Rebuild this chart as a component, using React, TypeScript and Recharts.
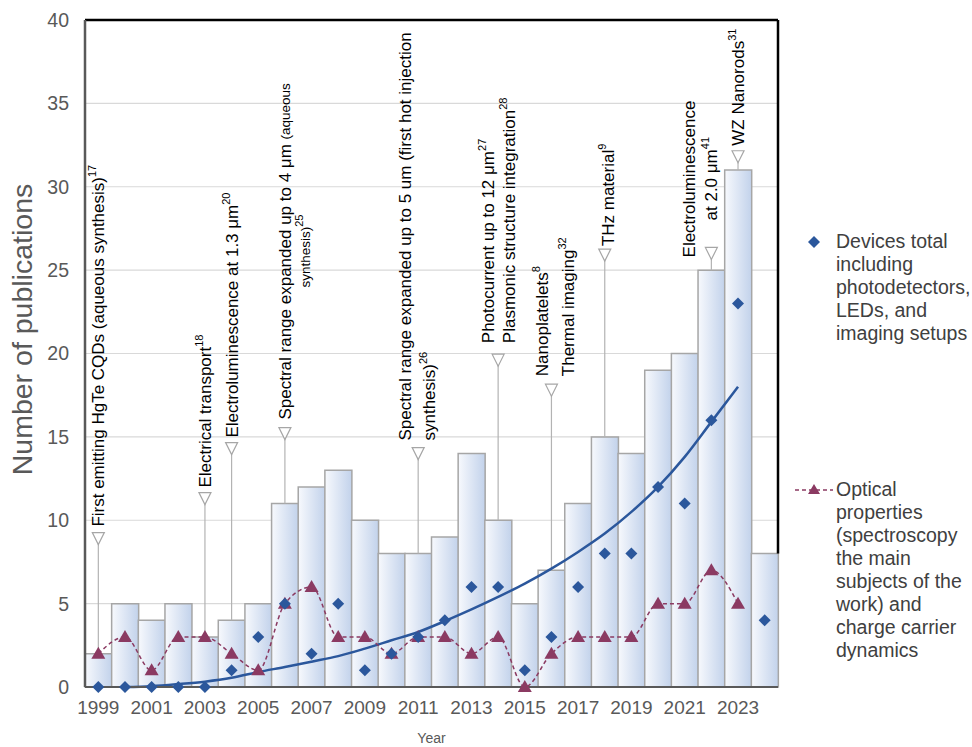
import {
  ComposedChart,
  Bar,
  Line,
  Scatter,
  XAxis,
  YAxis,
  CartesianGrid,
  ReferenceLine,
  ReferenceDot,
} from "recharts";

// ---- data ----
const years = [
  1999, 2000, 2001, 2002, 2003, 2004, 2005, 2006, 2007, 2008, 2009, 2010, 2011,
  2012, 2013, 2014, 2015, 2016, 2017, 2018, 2019, 2020, 2021, 2022, 2023, 2024,
];
const totals = [2, 5, 4, 5, 3, 4, 5, 11, 12, 13, 10, 8, 8, 9, 14, 10, 5, 7, 11, 15, 14, 19, 20, 25, 31, 8];
const devices = [0, 0, 0, 0, 0, 1, 3, 5, 2, 5, 1, 2, 3, 4, 6, 6, 1, 3, 6, 8, 8, 12, 11, 16, 23, 4];
const optical = [2, 3, 1, 3, 3, 2, 1, 5, 6, 3, 3, 2, 3, 3, 2, 3, 0, 2, 3, 3, 3, 5, 5, 7, 5, null];
const trend = [
  null, 0, 0.05, 0.17, 0.32, 0.55, 0.9, 1.2, 1.52, 1.85, 2.3, 2.8, 3.3, 3.95, 4.65, 5.4, 6.2, 7.1,
  8.1, 9.2, 10.5, 12.0, 13.8, 15.9, 18.0, null,
];
const yTicks = [0, 5, 10, 15, 20, 25, 30, 35, 40];

type Seg = [string, "n" | "s" | "sup"];
const annotations: { year: number; mark: number; lines: Seg[][] }[] = [
  { year: 1999, mark: 8.9, lines: [[["First emitting HgTe CQDs (aqueous synthesis)", "n"], ["17", "sup"]]] },
  { year: 2003, mark: 11.3, lines: [[["Electrical transport", "n"], ["18", "sup"]]] },
  { year: 2004, mark: 14.3, lines: [[["Electroluminescence at 1.3 \u03bcm", "n"], ["20", "sup"]]] },
  {
    year: 2006,
    mark: 15.2,
    lines: [
      [["Spectral range expanded up to 4 \u03bcm ", "n"], ["(aqueous", "s"]],
      [["synthesis)", "s"], ["25", "sup"]],
    ],
  },
  {
    year: 2011,
    mark: 14.0,
    lines: [
      [["Spectral range expanded up to 5 um (first hot injection", "n"]],
      [["synthesis)", "n"], ["26", "sup"]],
    ],
  },
  {
    year: 2014,
    mark: 19.6,
    lines: [
      [["Photocurrent up to 12 \u03bcm", "n"], ["27", "sup"]],
      [["Plasmonic structure integration", "n"], ["28", "sup"]],
    ],
  },
  {
    year: 2016,
    mark: 17.8,
    lines: [
      [["Nanoplatelets", "n"], ["8", "sup"]],
      [["Thermal imaging", "n"], ["32", "sup"]],
    ],
  },
  { year: 2018, mark: 25.9, lines: [[["THz material", "n"], ["9", "sup"]]] },
  {
    year: 2022,
    mark: 26.0,
    lines: [[["Electroluminescence", "n"]], [["at 2.0 \u03bcm", "n"], ["41", "sup"]]],
  },
  { year: 2023, mark: 31.8, lines: [[["WZ Nanorods", "n"], ["31", "sup"]]] },
];

const legendDevices = ["Devices total", "including", "photodetectors,", "LEDs, and", "imaging setups"];
const legendOptical = [
  "Optical",
  "properties",
  "(spectroscopy",
  "the main",
  "subjects of the",
  "work) and",
  "charge carrier",
  "dynamics",
];

// layout of the annotation text: per-line horizontal offset and lift above the triangle
const annLayout: Record<number, { dx: number[]; lift: number[] }> = {
  1999: { dx: [0], lift: [6] },
  2003: { dx: [0], lift: [5] },
  2004: { dx: [0], lift: [5] },
  2006: { dx: [0, 20], lift: [8, 140] },
  2011: { dx: [-13, 11], lift: [7, 7] },
  2014: { dx: [-10, 11], lift: [11, 11] },
  2016: { dx: [-9, 17], lift: [8, 8] },
  2018: { dx: [3], lift: [3] },
  2022: { dx: [-22, 0], lift: [-10, 27] },
  2023: { dx: [0], lift: [5] },
};

const data = years.map((year, i) => ({
  year,
  total: totals[i],
  devices: devices[i],
  optical: optical[i],
  trend: trend[i],
}));

const BLUE = "#2b579c";
const PLUM = "#8b3a62";
const GRAY_TXT = "#595959";

const Diamond = (p: any) => {
  if (p.cx == null || p.cy == null) return <g />;
  const r = 6;
  return (
    <polygon
      points={`${p.cx},${p.cy - r} ${p.cx + r},${p.cy} ${p.cx},${p.cy + r} ${p.cx - r},${p.cy}`}
      fill={BLUE}
    />
  );
};

const TriDot = (p: any) => {
  if (p.cx == null || p.cy == null || p.value == null) return <g key={p.key} />;
  return (
    <polygon
      key={p.key}
      points={`${p.cx},${p.cy - 7} ${p.cx + 7},${p.cy + 5} ${p.cx - 7},${p.cy + 5}`}
      fill={PLUM}
    />
  );
};

function AnnMark(props: any, a: (typeof annotations)[number]) {
  const { cx, cy } = props;
  if (cx == null || cy == null) return <g />;
  const lay = annLayout[a.year];
  const top = cy - 6;
  return (
    <g>
      <polygon
        points={`${cx - 6},${cy - 6} ${cx + 6},${cy - 6} ${cx},${cy + 6}`}
        fill="#fff"
        stroke="#a6a6a6"
        strokeWidth={1.2}
      />
      {a.lines.map((line, li) => {
        const x = cx + lay.dx[li];
        const y = top - lay.lift[li];
        return (
          <text
            key={li}
            x={x}
            y={y}
            transform={`rotate(-90 ${x} ${y})`}
            dominantBaseline="central"
            fontSize={17}
            fill="#000"
          >
            {line.map(([t, k], si) => {
              if (k === "sup")
                return (
                  <tspan key={si} fontSize={11} dy={-6}>
                    {t}
                  </tspan>
                );
              if (k === "s")
                return (
                  <tspan key={si} fontSize={13.5}>
                    {t}
                  </tspan>
                );
              return <tspan key={si}>{t}</tspan>;
            })}
          </text>
        );
      })}
    </g>
  );
}

export default function App() {
  return (
    <div
      style={{
        position: "absolute",
        left: 0,
        top: 0,
        width: 972,
        height: 747,
        background: "#fff",
        fontFamily: "'Liberation Sans', Arial, sans-serif",
      }}
    >
      <ComposedChart
        width={972}
        height={747}
        data={data}
        margin={{ top: 20, right: 194, bottom: 20, left: 0 }}
        barCategoryGap={0}
      >
        <defs>
          <linearGradient id="barGrad" x1="0" y1="0" x2="1" y2="0">
            <stop offset="0%" stopColor="#f7f9fd" />
            <stop offset="100%" stopColor="#c2d2eb" />
          </linearGradient>
        </defs>
        <CartesianGrid vertical={false} stroke="#d9d9d9" strokeWidth={1.2} />
        <XAxis
          dataKey="year"
          type="category"
          interval={1}
          tickLine={false}
          axisLine={{ stroke: "#595959", strokeWidth: 2 }}
          tick={{ fill: GRAY_TXT, fontSize: 19, dy: 6 }}
          height={40}
          label={{
            content: (p: any) => {
              const vb = p.viewBox;
              return (
                <text
                  x={vb.x + vb.width / 2}
                  y={vb.y + 51}
                  textAnchor="middle"
                  dominantBaseline="central"
                  fill={GRAY_TXT}
                  fontSize={14}
                >
                  Year
                </text>
              );
            },
          }}
        />
        <YAxis
          domain={[0, 40]}
          ticks={yTicks}
          width={85}
          tickLine={false}
          axisLine={{ stroke: "#595959", strokeWidth: 2.5 }}
          tick={{ fill: GRAY_TXT, fontSize: 19.5, dx: -8 }}
          label={{
            content: (p: any) => {
              const vb = p.viewBox;
              const x = vb.x + 22;
              const y = vb.y + vb.height / 2 - 24;
              return (
                <text
                  x={x}
                  y={y}
                  transform={`rotate(-90 ${x} ${y})`}
                  textAnchor="middle"
                  dominantBaseline="central"
                  fill={GRAY_TXT}
                  fontSize={28.5}
                >
                  Number of publications
                </text>
              );
            },
          }}
        />
        <ReferenceLine y={40} stroke="#000" strokeWidth={2.5} />
        <ReferenceLine
          segment={[
            { x: 2024, y: totals[totals.length - 1] },
            { x: 2024, y: 40 },
          ]}
          position="end"
          stroke="#000"
          strokeWidth={2.5}
        />
        <Bar
          dataKey="total"
          fill="url(#barGrad)"
          stroke="#a6a6a6"
          strokeWidth={1.5}
          isAnimationActive={false}
        />
        {annotations.map((a) => (
          <ReferenceLine
            key={`l${a.year}`}
            segment={[
              { x: a.year, y: totals[years.indexOf(a.year)] },
              { x: a.year, y: a.mark },
            ]}
            stroke="#b3b3b3"
            strokeWidth={1.2}
          />
        ))}
        {annotations.map((a) => (
          <ReferenceDot
            key={`d${a.year}`}
            x={a.year}
            y={a.mark}
            r={6}
            shape={(p: any) => AnnMark(p, a)}
          />
        ))}
        <Line
          dataKey="trend"
          type="monotone"
          stroke={BLUE}
          strokeWidth={2.5}
          dot={false}
          activeDot={false}
          isAnimationActive={false}
        />
        <Line
          dataKey="optical"
          type="monotone"
          stroke={PLUM}
          strokeWidth={1.5}
          strokeDasharray="4 3"
          dot={(p: any) => <TriDot {...p} />}
          activeDot={false}
          isAnimationActive={false}
        />
        <Scatter dataKey="devices" shape={(p: any) => <Diamond {...p} />} isAnimationActive={false} />
      </ComposedChart>

      <div
        style={{
          position: "absolute",
          left: 790,
          top: 230,
          width: 182,
          fontSize: 19.5,
          lineHeight: "23px",
          color: "#404040",
        }}
      >
        <div style={{ position: "absolute", left: 0, top: 0 }}>
          <svg width={46} height={23} style={{ position: "absolute", left: 0, top: 0 }}>
            <polygon points="24,6 30,12 24,18 18,12" fill={BLUE} />
          </svg>
          <div style={{ position: "absolute", left: 46, top: 0, whiteSpace: "nowrap" }}>
            {legendDevices.map((t) => (
              <div key={t}>{t}</div>
            ))}
          </div>
        </div>
        <div style={{ position: "absolute", left: 0, top: 248 }}>
          <svg width={46} height={23} style={{ position: "absolute", left: 0, top: 0 }}>
            <line x1={5} y1={12} x2={43} y2={12} stroke={PLUM} strokeWidth={1.5} strokeDasharray="4 3" />
            <polygon points="24,6 30,16 18,16" fill={PLUM} />
          </svg>
          <div style={{ position: "absolute", left: 46, top: 0, whiteSpace: "nowrap" }}>
            {legendOptical.map((t) => (
              <div key={t}>{t}</div>
            ))}
          </div>
        </div>
      </div>
    </div>
  );
}
